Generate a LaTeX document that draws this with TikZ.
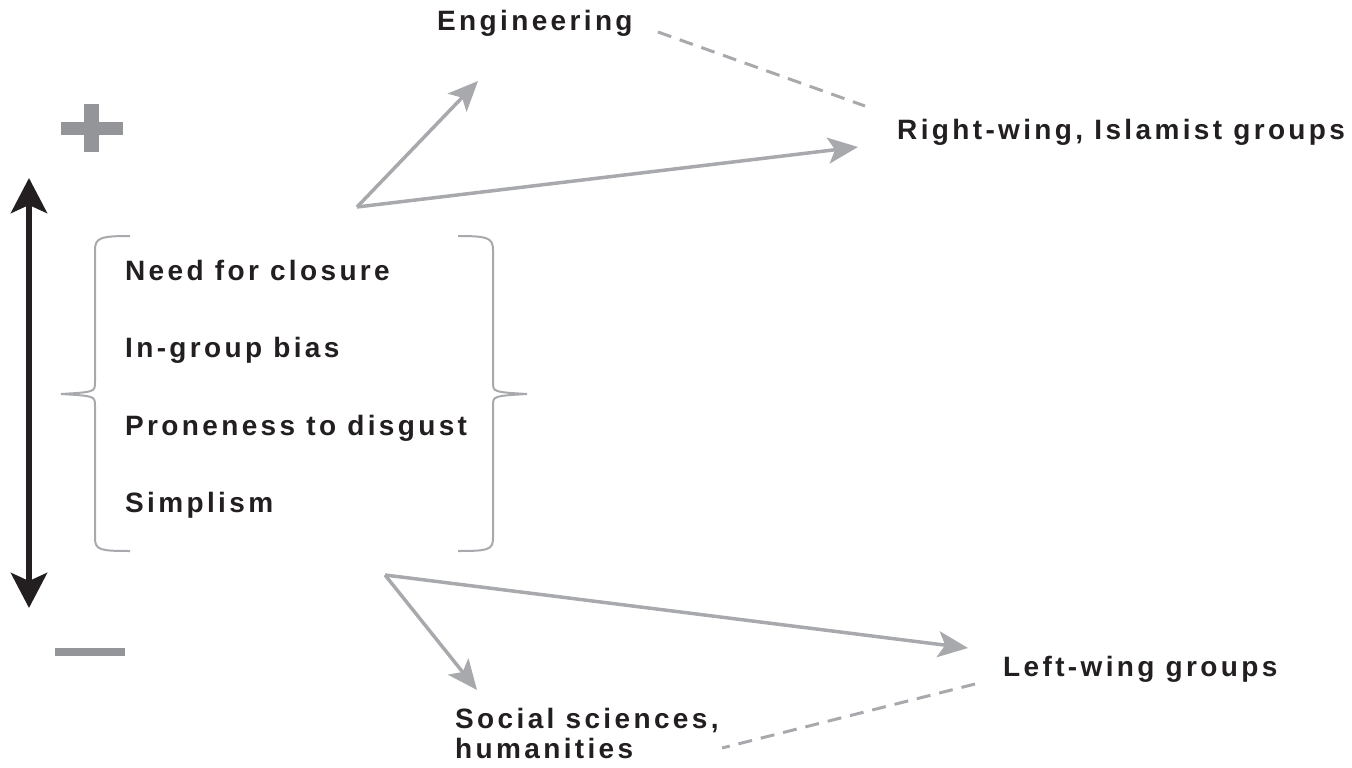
\documentclass[tikz,border=0pt]{standalone}
\usepackage{fontspec}
\setmainfont{Liberation Sans}[LetterSpace=12]
\usetikzlibrary{arrows.meta}
\definecolor{inkblack}{HTML}{231F20}
\definecolor{signgray}{HTML}{939598}
\definecolor{linegray}{HTML}{A7A9AC}
\tikzset{label/.style={color=inkblack,inner sep=0pt,anchor=base west,font=\fontsize{28pt}{30pt}\selectfont\bfseries,align=left}}
\tikzset{link/.style={draw=linegray,line width=3.5pt,-{Stealth[length=30pt,width=26pt,inset=7pt]}}}
\tikzset{tie/.style={draw=linegray,line width=3pt,dash pattern=on 14pt off 9pt}}
\tikzset{brace/.style={draw=linegray,line width=2pt}}

\begin{document}
\begin{tikzpicture}[x=1pt,y=-1pt]
	\useasboundingbox (0,0) rectangle (1352,768);

	% plus and minus
	\fill [signgray] (61,122) rectangle (123,135);
	\fill [signgray] (84,104) rectangle (99,152);
	\fill [signgray] (55,648) rectangle (125,656);

	% scale
	\coordinate (top) at (29,178);
	\coordinate (bottom) at (29,608);
	\draw [inkblack,line width=6pt,{Stealth[length=35pt,width=36pt,inset=8pt]}-{Stealth[length=35pt,width=36pt,inset=8pt]}] (top) -- (bottom);

	% traits
	\node [label] (closure) at (125,280) {Need for closure};
	\node [label] (bias) at (125,357) {In-group bias};
	\node [label] (disgust) at (125,435) {Proneness to disgust};
	\node [label] (simplism) at (125,512) {Simplism};

	\draw [brace] (130,236) .. controls (100,236) and (95,238) .. (95,250) -- (95,382)
		.. controls (95,392) .. (61,394) .. controls (95,396) .. (95,406) -- (95,538)
		.. controls (95,550) and (100,551) .. (130,551);
	\draw [brace] (458,236) .. controls (488,236) and (493,238) .. (493,250) -- (493,382)
		.. controls (493,392) .. (527,394) .. controls (493,396) .. (493,406) -- (493,538)
		.. controls (493,550) and (488,551) .. (458,551);

	% outcomes
	\node [label] (engineering) at (437,31) {Engineering};
	\node [label] (right) at (897,139) {Right-wing, Islamist groups};
	\node [label] (left) at (1003,676) {Left-wing groups};
	\node [label] (social) at (455,758) {Social sciences,\\humanities};

	\coordinate (high) at (357,207);
	\coordinate (low) at (385,575);
	\coordinate (engtip) at (478,81);
	\coordinate (righttip) at (858,147);
	\coordinate (soctip) at (477,690);
	\coordinate (lefttip) at (968,648);

	\draw [link] (high) -- (engtip);
	\draw [link] (high) -- (righttip);
	\draw [link] (low) -- (soctip);
	\draw [link] (low) -- (lefttip);

	\coordinate (engend) at (658,32);
	\coordinate (rightend) at (865,106);
	\coordinate (socend) at (722,748);
	\coordinate (leftend) at (975,684);
	\draw [tie] (engend) -- (rightend);
	\draw [tie] (leftend) -- (socend);
\end{tikzpicture}
\end{document}
